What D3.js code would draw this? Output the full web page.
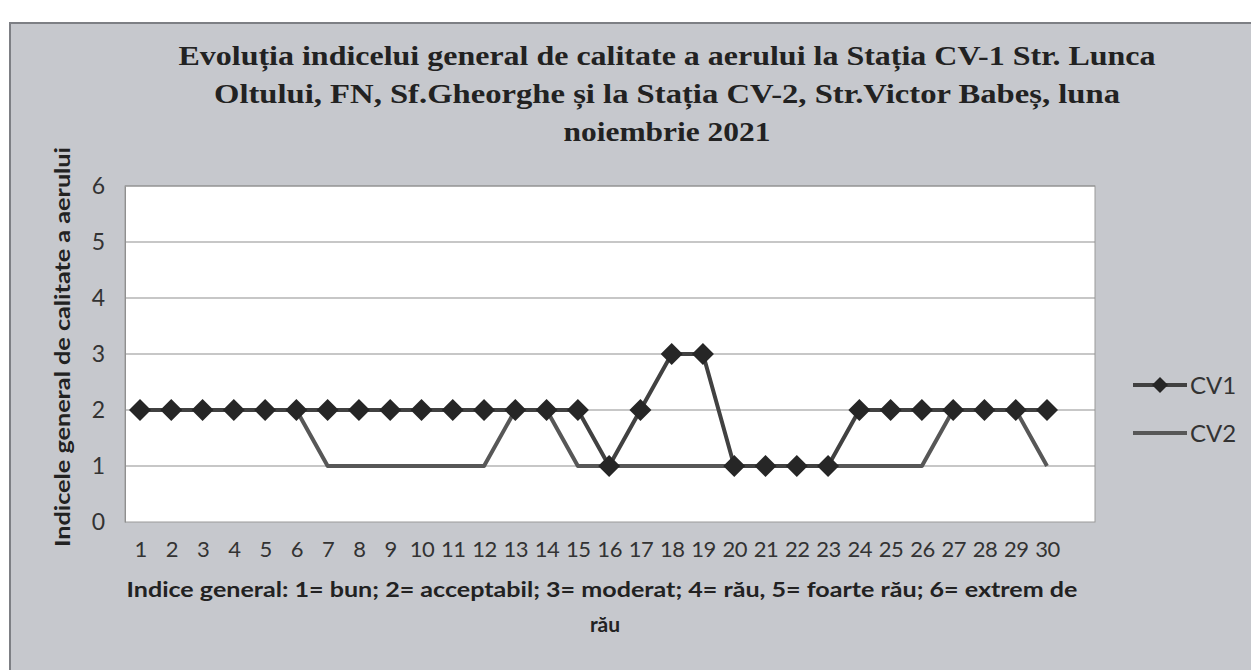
<!DOCTYPE html>
<html>
<head>
<meta charset="utf-8">
<script src="https://cdn.jsdelivr.net/npm/d3@7"></script>
<style>
  html, body { margin: 0; padding: 0; background: #ffffff; }
  svg { display: block; }
</style>
</head>
<body>
<svg id="chart" width="1251" height="670"></svg>
<script>
// ---- data ----
const days = d3.range(1, 31).map(String);
const cv1 = [2,2,2,2,2,2,2,2,2,2,2,2,2,2,2,1,2,3,3,1,1,1,1,2,2,2,2,2,2,2];
const cv2 = [2,2,2,2,2,2,1,1,1,1,1,1,2,2,1,1,1,1,1,1,1,1,1,1,1,1,2,2,2,1];
const yTicks = [0,1,2,3,4,5,6];
const seriesNames = ["CV1", "CV2"];
const titleLines = [
  "Evoluția indicelui general de calitate a aerului la Stația CV-1 Str. Lunca",
  "Oltului, FN, Sf.Gheorghe și la Stația CV-2, Str.Victor Babeș, luna",
  "noiembrie 2021"
];
const yTitle = "Indicele general  de calitate a aerului";
const xTitleLines = [
  "Indice general: 1= bun; 2= acceptabil; 3= moderat; 4= rău, 5= foarte rău; 6= extrem de",
  "rău"
];

// ---- layout ----
const svg = d3.select("#chart");
const plot = {left: 125, right: 1095, top: 186, bottom: 522};
const sans = "Lato, 'Open Sans', sans-serif";

// chart area background
svg.append("rect")
  .attr("x", 10).attr("y", 23).attr("width", 1260).attr("height", 660)
  .attr("fill", "#c6c8cd").attr("stroke", "#7d7f84").attr("stroke-width", 2);

// plot area
svg.append("rect")
  .attr("x", plot.left).attr("y", plot.top)
  .attr("width", plot.right - plot.left).attr("height", plot.bottom - plot.top)
  .attr("fill", "#ffffff").attr("stroke", "#9a9a9a").attr("stroke-width", 1);

const x = d3.scalePoint().domain(days).range([140, 1047]);
const y = d3.scaleLinear().domain([0, 6]).range([plot.bottom, plot.top]);

// gridlines
svg.append("g").selectAll("line").data(yTicks.filter(d => d > 0)).join("line")
  .attr("x1", plot.left).attr("x2", plot.right)
  .attr("y1", d => y(d)).attr("y2", d => y(d))
  .attr("stroke", "#8f8f8f").attr("stroke-width", 1);

// y axis
const yAxis = svg.append("g").attr("transform", `translate(${plot.left},0)`)
  .call(d3.axisLeft(y).tickValues(yTicks).tickFormat(d3.format("d")).tickSize(0).tickPadding(20));
yAxis.select(".domain").attr("stroke", "#8f8f8f");
yAxis.selectAll("text").attr("font-family", sans).attr("font-size", 23).attr("fill", "#333");

// x axis
const xAxis = svg.append("g").attr("transform", `translate(0,${plot.bottom})`)
  .call(d3.axisBottom(x).tickSize(0).tickPadding(19));
xAxis.select(".domain").remove();
xAxis.selectAll("text").attr("font-family", sans).attr("font-size", 22).attr("fill", "#333")
  .attr("letter-spacing", -0.5);

// lines
const line = d3.line().x((d, i) => x(days[i])).y(d => y(d));
svg.append("path").datum(cv2).attr("d", line)
  .attr("fill", "none").attr("stroke", "#575757").attr("stroke-width", 4)
  .attr("stroke-linejoin", "round");
svg.append("path").datum(cv1).attr("d", line)
  .attr("fill", "none").attr("stroke", "#414141").attr("stroke-width", 4)
  .attr("stroke-linejoin", "round");

const diamond = r => `M0,${-r}L${r},0L0,${r}L${-r},0Z`;
svg.append("g").selectAll("path").data(cv1).join("path")
  .attr("transform", (d, i) => `translate(${x(days[i])},${y(d)})`)
  .attr("d", diamond(11))
  .attr("fill", "#262626");

// title
svg.append("g").selectAll("text").data(titleLines).join("text")
  .attr("x", 667).attr("y", (d, i) => 65 + i * 38)
  .attr("text-anchor", "middle")
  .attr("font-family", "'Liberation Serif', 'Times New Roman', serif")
  .attr("font-weight", "bold").attr("font-size", 28).attr("fill", "#222")
  .attr("textLength", (d, i) => [977, 906, 207][i])
  .attr("lengthAdjust", "spacingAndGlyphs")
  .text(d => d);

// y title
svg.append("text")
  .attr("transform", "translate(70,347) rotate(-90)")
  .attr("text-anchor", "middle")
  .attr("font-family", sans).attr("font-weight", "bold").attr("font-size", 21)
  .attr("fill", "#222")
  .attr("textLength", 400).attr("lengthAdjust", "spacingAndGlyphs")
  .text(yTitle);

// x title
svg.append("g").selectAll("text").data(xTitleLines).join("text")
  .attr("x", (d, i) => i === 0 ? 602 : 605).attr("y", (d, i) => 597 + i * 35)
  .attr("text-anchor", "middle")
  .attr("font-family", sans).attr("font-weight", "bold").attr("font-size", 21)
  .attr("fill", "#222")
  .attr("textLength", (d, i) => i === 0 ? 951 : null)
  .attr("lengthAdjust", "spacingAndGlyphs")
  .text(d => d);

// legend
const legend = svg.append("g").selectAll("g").data(seriesNames).join("g")
  .attr("transform", (d, i) => `translate(1133,${385 + i * 48})`);
legend.append("line").attr("x1", 0).attr("x2", 54).attr("y1", 0).attr("y2", 0)
  .attr("stroke", (d, i) => i === 0 ? "#414141" : "#575757").attr("stroke-width", 4);
legend.filter((d, i) => i === 0).append("path")
  .attr("transform", "translate(27,0)").attr("d", diamond(8)).attr("fill", "#262626");
legend.append("text").attr("x", 57).attr("y", 9)
  .attr("font-family", sans).attr("font-size", 24).attr("fill", "#333")
  .text(d => d);
</script>
</body>
</html>
